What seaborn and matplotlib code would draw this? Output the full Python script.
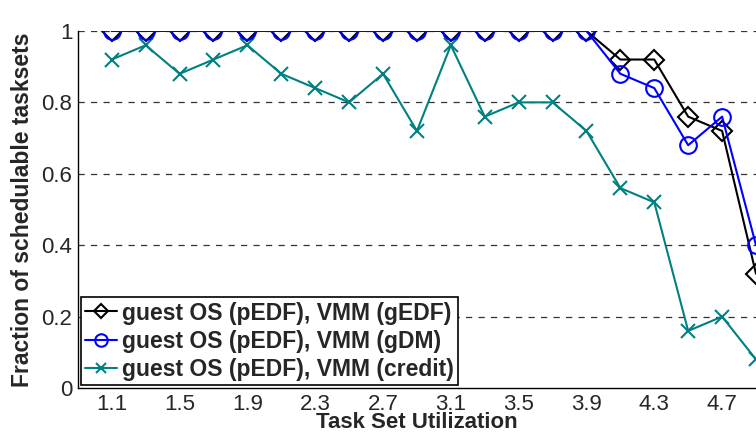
import numpy as np
import pandas as pd
import matplotlib
matplotlib.use("Agg")
import matplotlib.pyplot as plt
import seaborn as sns

# Datos
utilization = [1.1, 1.3, 1.5, 1.7, 1.9, 2.1, 2.3, 2.5, 2.7, 2.9,
               3.1, 3.3, 3.5, 3.7, 3.9, 4.1, 4.3, 4.5, 4.7, 4.9]
gedf = [1.0, 1.0, 1.0, 1.0, 1.0, 1.0, 1.0, 1.0, 1.0, 1.0,
        1.0, 1.0, 1.0, 1.0, 1.0, 0.92, 0.92, 0.76, 0.72, 0.32]
gdm = [1.0, 1.0, 1.0, 1.0, 1.0, 1.0, 1.0, 1.0, 1.0, 1.0,
       1.0, 1.0, 1.0, 1.0, 1.0, 0.88, 0.84, 0.68, 0.76, 0.40]
credit = [0.92, 0.96, 0.88, 0.92, 0.96, 0.88, 0.84, 0.80, 0.88, 0.72,
          0.96, 0.76, 0.80, 0.80, 0.72, 0.56, 0.52, 0.16, 0.20, 0.08]
labels = ["guest OS (pEDF), VMM (gEDF)",
          "guest OS (pEDF), VMM (gDM)",
          "guest OS (pEDF), VMM (credit)"]
xtick_pos = [1.1, 1.3, 1.5, 1.7, 1.9, 2.1, 2.3, 2.5, 2.7, 2.9,
             3.1, 3.3, 3.5, 3.7, 3.9, 4.1, 4.3, 4.5, 4.7, 4.9]
ytick_pos = [0, 0.2, 0.4, 0.6, 0.8, 1.0]

sns.set_style("white")
plt.rcParams["font.family"] = ["Liberation Sans", "DejaVu Sans"]

fig = plt.figure(figsize=(7.56, 4.36), dpi=100)
ax = fig.add_axes([0.103, 0.110, 0.897, 0.819])

df = pd.DataFrame({"u": utilization, "gedf": gedf, "gdm": gdm, "credit": credit})

# Lineas horizontales de la rejilla
for yv in ytick_pos[1:]:
    ax.axhline(yv, color="#333333", linestyle=(0, (5, 5)), linewidth=0.9, zorder=0)

sns.lineplot(data=df, x="u", y="gedf", ax=ax, color="black", marker="D",
             markersize=10, markerfacecolor="none", markeredgecolor="black",
             markeredgewidth=1.5, linewidth=1.5, label=labels[0], zorder=3)
sns.lineplot(data=df, x="u", y="gdm", ax=ax, color="#0000ff", marker="o",
             markersize=12, markerfacecolor="none", markeredgecolor="#0000ff",
             markeredgewidth=1.5, linewidth=1.5, label=labels[1], zorder=4)
sns.lineplot(data=df, x="u", y="credit", ax=ax, color="#008080", marker="x",
             markersize=10, markeredgecolor="#008080", markeredgewidth=1.5,
             linewidth=1.5, label=labels[2], zorder=2)

ax.set_xlim(0.9, 4.9)
ax.set_ylim(0, 1)
ax.set_xticks(xtick_pos)
ax.set_xticklabels([f"{v:.1f}" if i % 2 == 0 else "" for i, v in enumerate(xtick_pos)])
ax.set_yticks(ytick_pos)
ax.set_yticklabels(["0", "0.2", "0.4", "0.6", "0.8", "1"])
ax.tick_params(direction="in", length=6, width=1, labelsize=16, pad=4)

ax.set_xlabel("Task Set Utilization", fontsize=16, fontweight="bold", labelpad=-2)
ax.set_ylabel("Fraction of schedulable tasksets", fontsize=16.5, fontweight="bold", labelpad=5)

for side in ["top", "right"]:
    ax.spines[side].set_visible(False)
for side in ["left", "bottom"]:
    ax.spines[side].set_color("black")
    ax.spines[side].set_linewidth(1)

leg = ax.legend(loc="lower left", bbox_to_anchor=(0.004, 0.008), borderaxespad=0,
                prop={"weight": "bold", "size": 16.5}, frameon=True, fancybox=False,
                handlelength=1.4, handletextpad=0.2, labelspacing=0.22,
                borderpad=0.2, markerscale=0.75)
leg.get_frame().set_edgecolor("black")
leg.get_frame().set_linewidth(1.2)
leg.get_frame().set_alpha(1)

fig.savefig("out.png", dpi=100)
